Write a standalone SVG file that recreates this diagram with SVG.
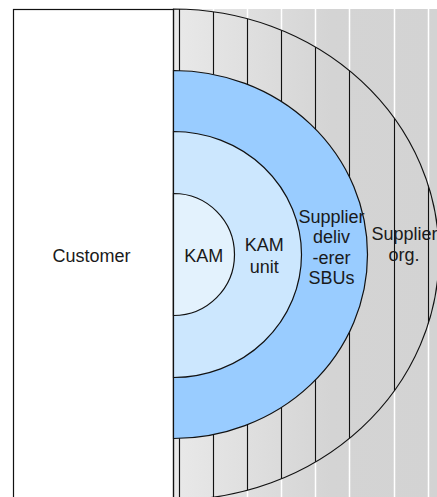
<svg xmlns="http://www.w3.org/2000/svg" width="437" height="497" viewBox="0 0 437 497">
  <style>
    .lbl { font-family: "Liberation Sans", Arial, sans-serif; font-size: 18px; fill: #1a1a1a; text-anchor: middle; }
    .edge { stroke: #111; stroke-width: 1.2; }
    .hatch { stroke: #111; stroke-width: 1.2; }
    .grid { stroke: #ffffff; stroke-width: 1.5; }
  </style>
  <defs>
    <linearGradient id="bg" gradientUnits="userSpaceOnUse" x1="173" y1="0" x2="437" y2="0">
      <stop offset="0" stop-color="#e9e9e9"/>
      <stop offset="0.6" stop-color="#d4d4d4"/>
      <stop offset="1" stop-color="#d3d3d3"/>
    </linearGradient>
    <clipPath id="outerClip">
      <path d="M173.5,9 A265.5,245.5 0 0 1 173.5,500 Z"/>
    </clipPath>
  </defs>
  <rect x="0" y="0" width="437" height="497" fill="#ffffff"/>
  <!-- background gray panel with white grid lines -->
  <rect x="173.5" y="9" width="264" height="490" fill="url(#bg)"/>
  <g>
    <line class="grid" x1="179.5" y1="9" x2="179.5" y2="497"/>
    <line class="grid" x1="213.5" y1="9" x2="213.5" y2="497"/>
    <line class="grid" x1="247.5" y1="9" x2="247.5" y2="497"/>
    <line class="grid" x1="281.5" y1="9" x2="281.5" y2="497"/>
    <line class="grid" x1="315.5" y1="9" x2="315.5" y2="497"/>
    <line class="grid" x1="349.5" y1="9" x2="349.5" y2="497"/>
    <line class="grid" x1="394.5" y1="9" x2="394.5" y2="497"/>
    <line class="grid" x1="428.5" y1="9" x2="428.5" y2="497"/>
  </g>
  <g id="customer">
    <rect x="13.5" y="9.5" width="160" height="500" fill="#ffffff" class="edge"/>
    <text class="lbl" x="91.5" y="262">Customer</text>
  </g>
  <g id="supplier-org">
    <g clip-path="url(#outerClip)">
      <line class="hatch" x1="179.5" y1="0" x2="179.5" y2="500"/>
      <line class="hatch" x1="213.5" y1="0" x2="213.5" y2="500"/>
      <line class="hatch" x1="247.5" y1="0" x2="247.5" y2="500"/>
      <line class="hatch" x1="281.5" y1="0" x2="281.5" y2="500"/>
      <line class="hatch" x1="315.5" y1="0" x2="315.5" y2="500"/>
      <line class="hatch" x1="349.5" y1="0" x2="349.5" y2="500"/>
      <line class="hatch" x1="394.5" y1="0" x2="394.5" y2="500"/>
      <line class="hatch" x1="428.5" y1="0" x2="428.5" y2="500"/>
    </g>
    <path d="M173.5,9 A265.5,245.5 0 0 1 173.5,500 Z" fill="none" class="edge"/>
    <text class="lbl" x="404.5" y="239.5">Supplier</text>
    <text class="lbl" x="404" y="260.5">org.</text>
  </g>
  <g id="supplier-sbus">
    <path d="M173.5,70.5 A194,184 0 0 1 173.5,438.5 Z" fill="#99ccff" class="edge"/>
  </g>
  <g id="kam-unit">
    <path d="M173.5,131.5 A128,123 0 0 1 173.5,377.5 Z" fill="#cce7fe" class="edge"/>
  </g>
  <g id="kam">
    <path d="M173.5,193.5 A61,61 0 0 1 173.5,315.5 Z" fill="#e3f2fd" class="edge"/>
    <text class="lbl" x="203.8" y="262">KAM</text>
  </g>
  <g id="kam-unit-label">
    <text class="lbl" x="264.3" y="251">KAM</text>
    <text class="lbl" x="264.3" y="272.7">unit</text>
  </g>
  <g id="supplier-sbus-label">
    <text class="lbl" x="331.5" y="222.5">Supplier</text>
    <text class="lbl" x="331.5" y="243">deliv</text>
    <text class="lbl" x="331.5" y="263.5">-erer</text>
    <text class="lbl" x="331.5" y="284">SBUs</text>
  </g>
</svg>
